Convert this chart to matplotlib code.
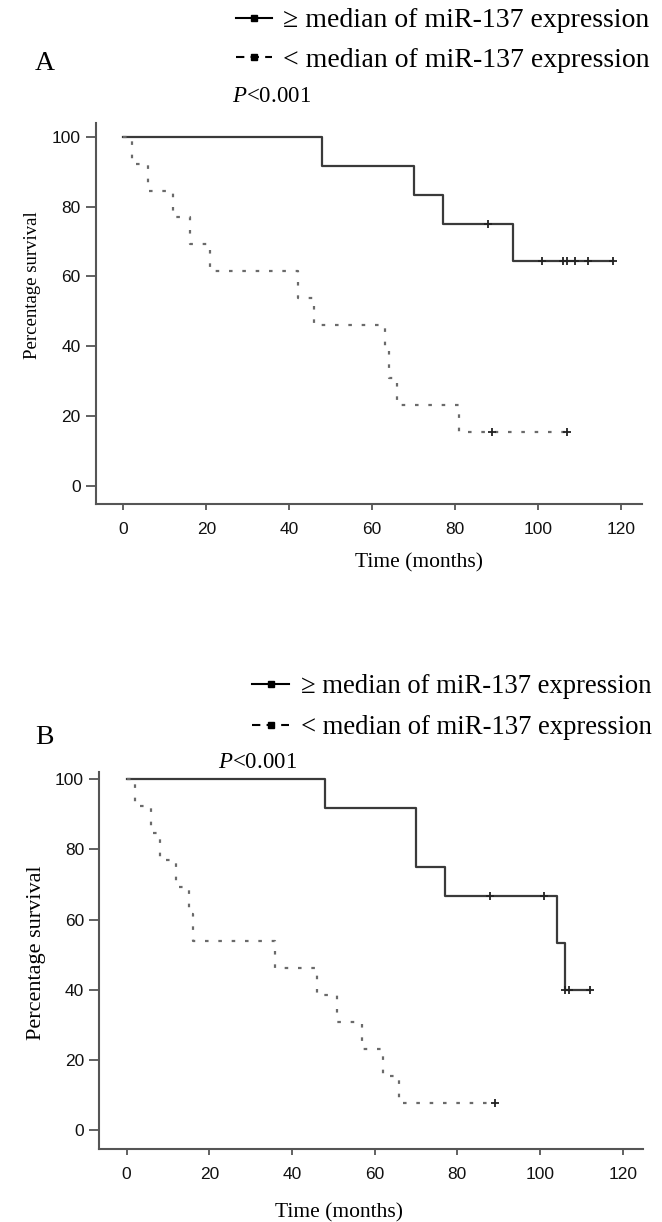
import numpy as np
import matplotlib
matplotlib.use("Agg")
import matplotlib.pyplot as plt
from matplotlib.lines import Line2D

plt.rcParams['mathtext.fontset'] = 'custom'
plt.rcParams['mathtext.rm'] = 'Liberation Serif'
plt.rcParams['mathtext.it'] = 'Liberation Serif:italic'

# panel A - overall survival curves
a_high_t = [0, 48, 70, 77, 94, 118]
a_high_s = [100, 91.7, 83.3, 75.0, 64.3, 64.3]
a_high_cens = [88, 101, 106, 107, 109, 112, 118]
a_low_t = [0, 2, 6, 12, 16, 21, 42, 46, 63, 64, 66, 81, 107]
a_low_s = [100, 92.3, 84.6, 76.9, 69.2, 61.5, 53.8, 46.2, 38.5, 30.8, 23.1, 15.4, 15.4]
a_low_cens = [89, 107]

# panel B
b_high_t = [0, 48, 70, 77, 104, 106, 112]
b_high_s = [100, 91.7, 75.0, 66.7, 53.3, 40.0, 40.0]
b_high_cens = [88, 101, 106, 107, 112]
b_low_t = [0, 2, 6, 8, 12, 15, 16, 36, 46, 51, 57, 62, 66, 89]
b_low_s = [100, 92.3, 84.6, 76.9, 69.2, 61.5, 53.8, 46.2, 38.5, 30.8, 23.1, 15.4, 7.7, 7.7]
b_low_cens = [89]

xticks = [0, 20, 40, 60, 80, 100, 120]
yticks = [0, 20, 40, 60, 80, 100]
labels = ['\u2265 median of miR-137 expression', '< median of miR-137 expression']

serif = 'Liberation Serif'
sans = ['Liberation Sans Narrow', 'Liberation Sans']
dot_style = (0, (1.6, 4.4))


def level_at(ts, ss, t):
    idx = np.searchsorted(ts, t, side='right') - 1
    return ss[idx]


def draw_panel(ax, hi_t, hi_s, hi_c, lo_t, lo_s, lo_c, ylim):
    ax.step(hi_t, hi_s, where='post', color='#3a3a3a', lw=1.6)
    ax.step(lo_t, lo_s, where='post', color='#6a6a6a', lw=1.6, linestyle=dot_style)
    ax.plot(hi_c, [level_at(hi_t, hi_s, t) for t in hi_c], '+', color='#222222', ms=6, mew=1.3)
    ax.plot(lo_c, [level_at(lo_t, lo_s, t) for t in lo_c], '+', color='#222222', ms=6, mew=1.3)
    ax.set_xlim(-6.6, 125)
    ax.set_ylim(*ylim)
    ax.set_xticks(xticks)
    ax.set_yticks(yticks)
    for side in ['top', 'right']:
        ax.spines[side].set_visible(False)
    for side in ['left', 'bottom']:
        ax.spines[side].set_color('#555555')
        ax.spines[side].set_linewidth(1.5)
    ax.tick_params(axis='both', colors='#555555', width=1.3, labelcolor='#111111')
    ax.tick_params(axis='y', length=7, pad=4)
    ax.tick_params(axis='x', length=4, pad=9)
    for lab in ax.get_xticklabels() + ax.get_yticklabels():
        lab.set_family(sans)
        lab.set_fontsize(12.5)


fig = plt.figure(figsize=(6.62, 12.22), dpi=100)

ax_a = fig.add_axes([0.145, 0.5876, 0.8243, 0.3118])
draw_panel(ax_a, a_high_t, a_high_s, a_high_cens, a_low_t, a_low_s, a_low_cens, (-5.25, 104))
ax_b = fig.add_axes([0.150, 0.0597, 0.8218, 0.3088])
draw_panel(ax_b, b_high_t, b_high_s, b_high_cens, b_low_t, b_low_s, b_low_cens, (-5.5, 102.2))

handles = [Line2D([], [], color='black', lw=1.5, marker='s', ms=4.5),
           Line2D([], [], color='black', lw=1.5, linestyle=(0, (4, 3)), marker='s', ms=4.5)]

# panel A text
fig.legend(handles, labels, loc='upper left', bbox_to_anchor=(236 / 662, 1 - 8 / 1222),
           frameon=False, prop={'family': serif, 'size': 20}, handlelength=1.3,
           handletextpad=0.4, labelspacing=0.5, borderpad=0, borderaxespad=0)
fig.text(35 / 662, 1 - 64 / 1222, 'A', family=serif, fontsize=20, va='center')
fig.text(232 / 662, 1 - 96 / 1222, '$P$<0.001', family=serif, fontsize=16.5, va='center')
fig.text(419 / 662, 1 - 563 / 1222, 'Time (months)', family=serif, fontsize=15.5, ha='center', va='center')
fig.text(33 / 662, 1 - 285 / 1222, 'Percentage survival', family=serif, fontsize=13.5,
         rotation=90, ha='center', va='center')

# panel B text
fig.legend(handles, labels, loc='upper left', bbox_to_anchor=(252 / 662, 1 - 674 / 1222),
           frameon=False, prop={'family': serif, 'size': 19.2}, handlelength=1.4,
           handletextpad=0.45, labelspacing=0.6, borderpad=0, borderaxespad=0)
fig.text(35 / 662, 1 - 738 / 1222, 'B', family=serif, fontsize=20, va='center')
fig.text(218 / 662, 1 - 762 / 1222, '$P$<0.001', family=serif, fontsize=16.5, va='center')
fig.text(339 / 662, 1 - 1213 / 1222, 'Time (months)', family=serif, fontsize=15.5, ha='center', va='center')
fig.text(37 / 662, 1 - 953 / 1222, 'Percentage survival', family=serif, fontsize=16,
         rotation=90, ha='center', va='center')

fig.savefig('out.png', dpi=100)
